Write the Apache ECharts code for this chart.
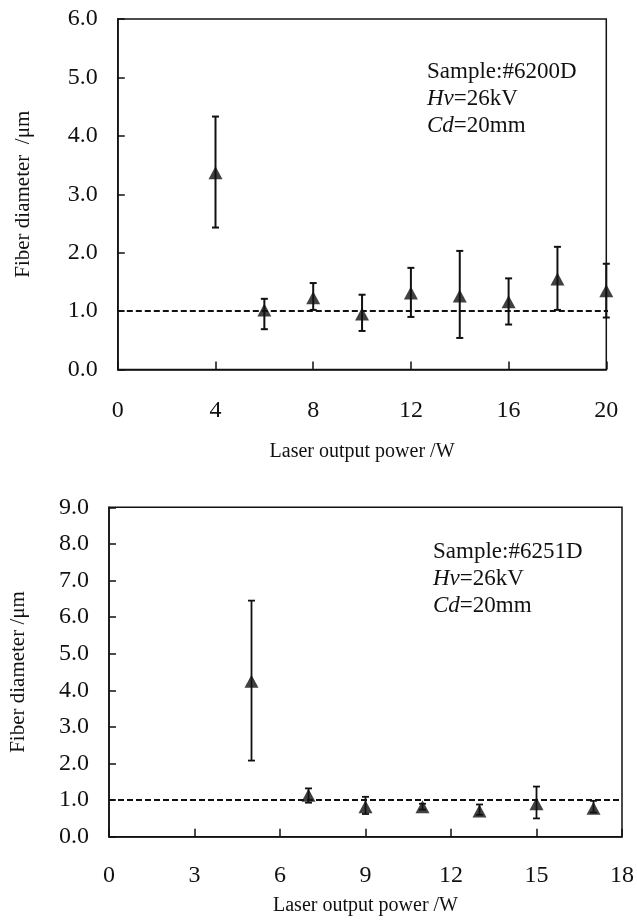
<!DOCTYPE html>
<html><head><meta charset="utf-8">
<script src="https://cdn.jsdelivr.net/npm/echarts@6/dist/echarts.min.js"></script>
<style>html,body{margin:0;padding:0;background:#fff}#c{width:637px;height:921px}</style>
</head><body><div id="c"></div>
<script>
// ---- Panel 1 (Sample #6200D) ----
const power1 = [4, 6, 8, 10, 12, 14, 16, 18, 20];
const mean1  = [3.37, 1.02, 1.23, 0.95, 1.31, 1.26, 1.16, 1.55, 1.35];
const upper1 = [4.33, 1.21, 1.48, 1.28, 1.74, 2.03, 1.56, 2.10, 1.81];
const lower1 = [2.43, 0.69, 1.02, 0.66, 0.90, 0.54, 0.77, 1.02, 0.89];
const refLine1 = [[0, 1.0], [20.45, 1.0]];
const xAxis1 = {min: 0, max: 20, interval: 4};
const yAxis1 = {min: 0, max: 6, interval: 1};
const note1 = ['Sample:#6200D', 'Hv', '=26kV', 'Cd', '=20mm'];

// ---- Panel 2 (Sample #6251D) ----
const power2 = [5, 7, 9, 11, 13, 15, 17];
const mean2  = [4.25, 1.13, 0.82, 0.82, 0.70, 0.90, 0.78];
const upper2 = [6.45, 1.32, 1.09, 0.90, 0.88, 1.37, 0.98];
const lower2 = [2.08, 0.93, 0.62, 0.74, 0.60, 0.50, 0.66];
const refLine2 = [[0, 1.0], [18, 1.0]];
const xAxis2 = {min: 0, max: 18, interval: 3};
const yAxis2 = {min: 0, max: 9, interval: 1};
const note2 = ['Sample:#6251D', 'Hv', '=26kV', 'Cd', '=20mm'];

const xName = 'Laser output power /W';
const yName1 = 'Fiber diameter  /\u03bcm';
const yName2 = 'Fiber diameter /\u03bcm';

const INK = '#111';
const FONT = '"Liberation Serif", "Times New Roman", serif';

function errData(xs, lo, hi) { return xs.map((x, i) => [x, lo[i], hi[i]]); }
function errRender(lineW, capW) {
  return function (params, api) {
    const x = api.value(0);
    const lo = api.coord([x, api.value(1)]);
    const hi = api.coord([x, api.value(2)]);
    const st = {stroke: INK, lineWidth: lineW};
    return {type: 'group', children: [
      {type: 'line', shape: {x1: lo[0], y1: lo[1], x2: hi[0], y2: hi[1]}, style: st},
      {type: 'line', shape: {x1: hi[0] - capW / 2, y1: hi[1], x2: hi[0] + capW / 2, y2: hi[1]}, style: st},
      {type: 'line', shape: {x1: lo[0] - capW / 2, y1: lo[1], x2: lo[0] + capW / 2, y2: lo[1]}, style: st}
    ]};
  };
}
function xAx(gi, cfg, labelMargin, nameGap) {
  return {
    type: 'value', gridIndex: gi, min: cfg.min, max: cfg.max, interval: cfg.interval,
    name: xName, nameLocation: 'middle', nameGap: nameGap,
    nameTextStyle: {fontFamily: FONT, fontSize: 20, color: INK},
    axisLine: {show: true, lineStyle: {color: INK, width: 1.5}},
    axisTick: {show: true, inside: true, length: 8, lineStyle: {color: INK, width: 1.5}},
    axisLabel: {fontFamily: FONT, fontSize: 24, color: INK, margin: labelMargin},
    splitLine: {show: false}
  };
}
function yAx(gi, cfg, name, nameGap) {
  return {
    type: 'value', gridIndex: gi, min: cfg.min, max: cfg.max, interval: cfg.interval,
    name: name, nameLocation: 'middle', nameGap: nameGap,
    nameTextStyle: {fontFamily: FONT, fontSize: 21, color: INK},
    axisLine: {show: true, lineStyle: {color: INK, width: 1.5}},
    axisTick: {show: true, inside: true, length: 7, lineStyle: {color: INK, width: 1.5}},
    axisLabel: {fontFamily: FONT, fontSize: 24, color: INK, margin: 20, formatter: v => v.toFixed(1)},
    splitLine: {show: false}
  };
}
function noteText(n, left, top) {
  return {
    type: 'text', left: left, top: top,
    style: {
      text: n[0] + '\n{i|' + n[1] + '}' + n[2] + '\n{i|' + n[3] + '}' + n[4],
      font: '23px ' + FONT, fill: INK, lineHeight: 27,
      rich: {i: {fontFamily: FONT, fontSize: 23, fontStyle: 'italic', fill: INK, lineHeight: 27}}
    }
  };
}

const chart = echarts.init(document.getElementById('c'), null, {renderer: 'canvas'});
chart.setOption({
  backgroundColor: '#fff',
  animation: false,
  grid: [
    {left: 117.8, right: 30.7, top: 19, height: 350.5, show: true, borderColor: INK, borderWidth: 1.5},
    {left: 102.7, right: 14.7, top: 507.3, height: 329.4, show: true, borderColor: INK, borderWidth: 1.5}
  ],
  xAxis: [xAx(0, xAxis1, 29, 72), xAx(1, xAxis2, 27, 59)],
  yAxis: [yAx(0, yAxis1, yName1, 84), yAx(1, yAxis2, yName2, 80)],
  graphic: [noteText(note1, 427, 58), noteText(note2, 433, 538)],
  series: [
    {type: 'line', xAxisIndex: 0, yAxisIndex: 0, data: refLine1, symbol: 'none', clip: false,
     lineStyle: {color: INK, width: 2, type: [6, 3]}, z: 1, silent: true},
    {type: 'custom', xAxisIndex: 0, yAxisIndex: 0, data: errData(power1, lower1, upper1),
     renderItem: errRender(2, 7), z: 2, clip: false},
    {type: 'scatter', xAxisIndex: 0, yAxisIndex: 0, data: power1.map((x, i) => [x, mean1[i]]),
     symbol: 'triangle', symbolSize: [14, 13], itemStyle: {color: INK}, z: 3, clip: false},

    {type: 'line', xAxisIndex: 1, yAxisIndex: 1, data: refLine2, symbol: 'none', clip: false,
     lineStyle: {color: INK, width: 2, type: [6, 3]}, z: 1, silent: true},
    {type: 'custom', xAxisIndex: 1, yAxisIndex: 1, data: errData(power2, lower2, upper2),
     renderItem: errRender(1.8, 7), z: 2, clip: false},
    {type: 'scatter', xAxisIndex: 1, yAxisIndex: 1, data: power2.map((x, i) => [x, mean2[i]]),
     symbol: 'triangle', symbolSize: [14, 13], itemStyle: {color: INK}, z: 3, clip: false}
  ]
});
</script>
</body></html>
